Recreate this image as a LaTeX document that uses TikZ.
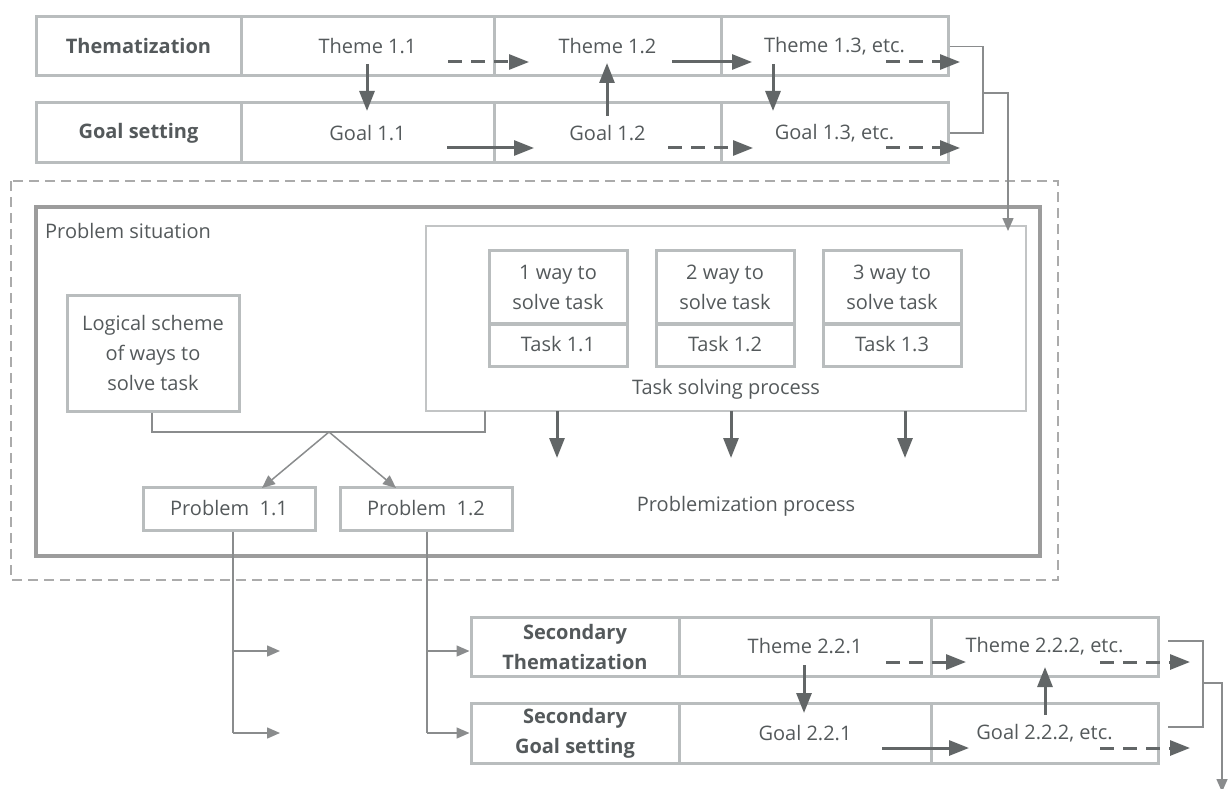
\documentclass[tikz,border=0pt]{standalone}
\usepackage{fontspec}
\setmainfont{Open Sans}
\usetikzlibrary{arrows.meta,calc}
\definecolor{cellc}{HTML}{B9BDBE}
\definecolor{arrc}{HTML}{626667}
\definecolor{txtc}{HTML}{54595B}
\definecolor{dashc}{HTML}{ABABAB}
\definecolor{psc}{HTML}{9C9C9C}
\definecolor{thinc}{HTML}{8A8C8D}
\definecolor{taskc}{HTML}{C2C4C5}
\begin{document}
\begin{tikzpicture}[x=1pt,y=-1pt,
  every node/.style={text=txtc, font=\fontsize{20}{30}\selectfont},
  cell/.style={draw=cellc, line width=3pt, inner sep=0pt, align=center},
  bigarrow/.style={draw=arrc, line width=3pt, -{Triangle[length=20pt,width=15pt]}},
  dasharrow/.style={bigarrow, dash pattern=on 14pt off 9pt},
  thinline/.style={draw=thinc, line width=1.5pt},
  thinarrow/.style={thinline, -{Triangle[length=13pt,width=11pt]}}
]
\useasboundingbox (0,0) rectangle (1229,789);

% ---------- top rows ----------
\node[cell, minimum width=205pt, minimum height=59pt] (th) at (138.5,46.5) {\bfseries Thematization};
\node[cell, minimum width=253pt, minimum height=59pt] (t11) at (367.5,46.5) {Theme 1.1};
\node[cell, minimum width=227pt, minimum height=59pt] (t12) at (607.5,46.5) {Theme 1.2};
\node[cell, minimum width=227pt, minimum height=59pt] (t13) at (834.5,46.5) {Theme 1.3, etc.};

\node[cell, minimum width=205pt, minimum height=60pt] (gs) at (138.5,133) {\bfseries Goal setting};
\node[cell, minimum width=253pt, minimum height=60pt] (g11) at (367.5,133) {Goal 1.1};
\node[cell, minimum width=227pt, minimum height=60pt] (g12) at (607.5,133) {Goal 1.2};
\node[cell, minimum width=227pt, minimum height=60pt] (g13) at (834.5,133) {Goal 1.3, etc.};

% arrows in top rows
\draw[bigarrow] (367,64) -- (367,111);
\draw[dasharrow] (448,62) -- (529,62);
\draw[bigarrow] (607,116) -- (607,63);
\draw[bigarrow] (672,62) -- (752,62);
\draw[bigarrow] (773,64) -- (773,111);
\draw[dasharrow] (886,62) -- (960,62);
\draw[bigarrow] (447,148) -- (534,148);
\draw[dasharrow] (668,148) -- (753,148);
\draw[dasharrow] (886,148) -- (960,148);

% ---------- outer frames ----------
\draw[dashc, line width=1.5pt, dash pattern=on 10pt off 6pt] (11,181) rectangle (1058,580);
\node[draw=psc, line width=3.5pt, minimum width=1004pt, minimum height=349pt, inner sep=0pt] (ps) at (538,381.5) {};
\node[anchor=west, inner sep=0pt] (pslab) at (45,231) {Problem situation};

% task solving
\node[draw=taskc, line width=2pt, minimum width=600pt, minimum height=185pt, inner sep=0pt] (task) at (726,318.5) {};
\foreach \n/\cx/\k in {1/558/1, 2/725/2, 3/892/3}{
  \node[cell, minimum width=138pt, minimum height=74pt] (w\n) at (\cx,287) {\k\ way to\\solve task};
  \node[cell, minimum width=138pt, minimum height=43pt] (tk\n) at (\cx,344.5) {Task 1.\k};
}
\node (tsp) at (726,389) {Task solving process};
\draw[bigarrow] (557,411) -- (557,458);
\draw[bigarrow] (731,411) -- (731,458);
\draw[bigarrow] (905,411) -- (905,458);
\node (pp) at (746,506) {Problemization process};

% logical scheme
\node[cell, minimum width=172pt, minimum height=116pt] (lg) at (153,353) {Logical scheme\\of ways to\\solve task};

% problems
\node[cell, minimum width=172pt, minimum height=43pt] (p11) at (229,508.5) {Problem\ \ 1.1};
\node[cell, minimum width=172pt, minimum height=43pt] (p12) at (426,508.5) {Problem\ \ 1.2};

\coordinate (tb) at (485,411);
\coordinate (j) at (329,432);
\draw[thinline] (lg.south -| 152,0) |- (j) -| (tb);
\draw[thinarrow] (j) -- (262,488);
\draw[thinarrow] (j) -- (396,488);

% ---------- secondary rows ----------
\node[cell, minimum width=208pt, minimum height=59pt] (sth) at (575,646.5) {\bfseries Secondary\\\bfseries Thematization};
\node[cell, minimum width=252pt, minimum height=59pt] (t21) at (805,646.5) {Theme 2.2.1};
\node[cell, minimum width=227pt, minimum height=59pt] (t22) at (1044.5,646.5) {Theme 2.2.2, etc.};
\node[cell, minimum width=208pt, minimum height=60pt] (sgs) at (575,733) {\bfseries Secondary\\\bfseries Goal setting};
\node[cell, minimum width=252pt, minimum height=60pt] (g21) at (805,733) {Goal 2.2.1};
\node[cell, minimum width=227pt, minimum height=60pt] (g22) at (1044.5,733) {Goal 2.2.2, etc.};

\draw[bigarrow] (804,665) -- (804,713);
\draw[dasharrow] (886,662) -- (966,662);
\draw[dasharrow] (1100,662) -- (1190,662);
\draw[bigarrow] (1045,715) -- (1045,667);
\draw[bigarrow] (882,748) -- (969,748);
\draw[dasharrow] (1100,748) -- (1190,748);

% lines from problems
\coordinate (e1) at (280,651);
\coordinate (e2) at (280,733);
\draw[thinline] (p11.south -| 233,0) -- (233,733);
\draw[thinarrow] (233,651) -- (e1);
\draw[thinarrow] (233,733) -- (e2);
\draw[thinline] (p12.south -| 427,0) -- (427,733);
\draw[thinarrow] (427,651) -- (sth.west |- 0,651);
\draw[thinarrow] (427,733) -- (sgs.west);

% ---------- brackets ----------
\draw[thinline] (t13.east) -- (983,46.5) -- (983,133) -- (g13.east);
\coordinate (tin) at (1008,231);
\draw[thinarrow] (983,93) -| (tin);

\draw[thinline] (1168,641) -- (1203,641) -- (1203,727) -- (1168,727);
\coordinate (bout) at (1222,792);
\draw[thinarrow] (1203,683) -| (bout);
\end{tikzpicture}
\end{document}
